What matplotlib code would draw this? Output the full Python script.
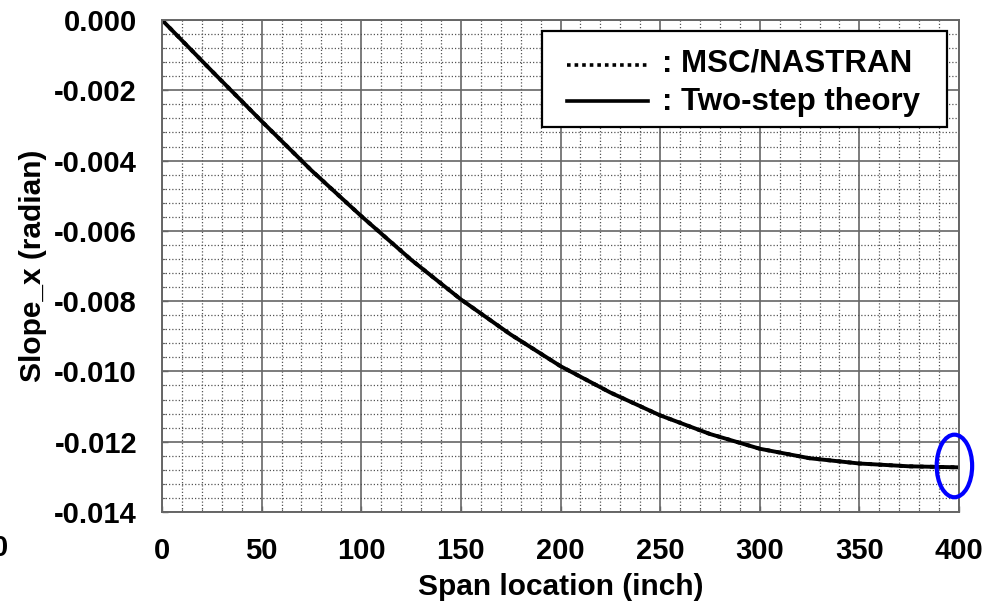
import matplotlib
matplotlib.use("Agg")
import matplotlib.pyplot as plt
from matplotlib.lines import Line2D
from matplotlib.patches import Ellipse, Rectangle
from matplotlib.ticker import MultipleLocator, FormatStrFormatter

plt.rcParams['font.family'] = ['Liberation Sans', 'DejaVu Sans']
plt.rcParams['font.weight'] = 'bold'

# Spanwise slope results
span = [0, 25, 50, 75, 100, 125, 150, 175, 200, 225, 250, 275, 300, 325, 350, 375, 400]
slope_nastran = [0.0, -0.00145, -0.00288, -0.00428, -0.00558, -0.00682, -0.00795, -0.00895,
                 -0.00985, -0.01060, -0.01125, -0.01178, -0.01220, -0.01247, -0.01262, -0.01270, -0.01273]
slope_two_step = [0.0, -0.00145, -0.00288, -0.00428, -0.00558, -0.00682, -0.00795, -0.00895,
                  -0.00985, -0.01060, -0.01125, -0.01178, -0.01220, -0.01247, -0.01262, -0.01270, -0.01273]

x_ticks = [0, 50, 100, 150, 200, 250, 300, 350, 400]
y_ticks = [0.000, -0.002, -0.004, -0.006, -0.008, -0.010, -0.012, -0.014]
legend_labels = [': MSC/NASTRAN', ': Two-step theory']

# Tip highlight (centre, width, height)
tip_center = (397.7, -0.01269)
tip_size = (17.8, 0.00178)

fig = plt.figure(figsize=(9.86, 6.13), dpi=100)
ax = fig.add_axes([162/986, 1 - 512/613, (959 - 162)/986, (512 - 20)/613])

ax.set_xlim(0, 400)
ax.set_ylim(-0.014, 0.0)
ax.set_xticks(x_ticks)
ax.set_yticks(y_ticks)
ax.yaxis.set_major_formatter(FormatStrFormatter('%.3f'))
ax.xaxis.set_minor_locator(MultipleLocator(10))
ax.yaxis.set_minor_locator(MultipleLocator(0.0004))

grid_gray = '#666666'
ax.grid(True, which='major', color=grid_gray, linewidth=1.2, linestyle='-')
ax.grid(True, which='minor', color='#555555', linewidth=0.9, linestyle=(0, (1, 1.6)))
ax.set_axisbelow(True)
for s in ax.spines.values():
    s.set_color(grid_gray)
    s.set_linewidth(1.4)

ax.tick_params(which='major', direction='in', length=4, width=1, color=grid_gray,
               labelsize=21, pad=18)
ax.tick_params(which='minor', direction='in', length=2, width=0.8, color=grid_gray)
for lab in ax.get_xticklabels() + ax.get_yticklabels():
    lab.set_fontweight('bold')

ax.set_xlabel('Span location (inch)', fontsize=21.5, fontweight='bold', labelpad=6)
ax.set_ylabel('Slope_x (radian)', fontsize=21.5, fontweight='bold', labelpad=5)

ax.plot(span, slope_nastran, color='black', linewidth=2.8, linestyle=':')
ax.plot(span, slope_two_step, color='black', linewidth=2.8, linestyle='-')

ax.add_patch(Ellipse(tip_center, tip_size[0], tip_size[1], fill=False,
                     edgecolor='#0000ff', linewidth=3.0, clip_on=False, zorder=5))

# Legend box drawn in axes coordinates
box = Rectangle((0.4764, 0.7819), 0.9846 - 0.4764, 0.9783 - 0.7819,
                transform=ax.transAxes, facecolor='white', edgecolor='black',
                linewidth=1.6, zorder=6)
ax.add_patch(box)
for y_line, y_text, style, label in [(0.9085, 0.8949, (0, (1, 1.1)), legend_labels[0]),
                                     (0.8360, 0.8171, '-', legend_labels[1])]:
    ax.add_line(Line2D([0.5078, 0.6098], [y_line, y_line], transform=ax.transAxes,
                       color='black', linestyle=style, linewidth=2.6, zorder=7))
    ax.text(0.627, y_text, label, transform=ax.transAxes, fontsize=22.5,
            fontweight='bold', ha='left', va='baseline', zorder=7)

# stray tick label at the left edge
fig.text(0.0, 1 - 548/613, '0', fontsize=21, fontweight='bold', ha='center', va='center')

fig.savefig('out.png', dpi=100)
